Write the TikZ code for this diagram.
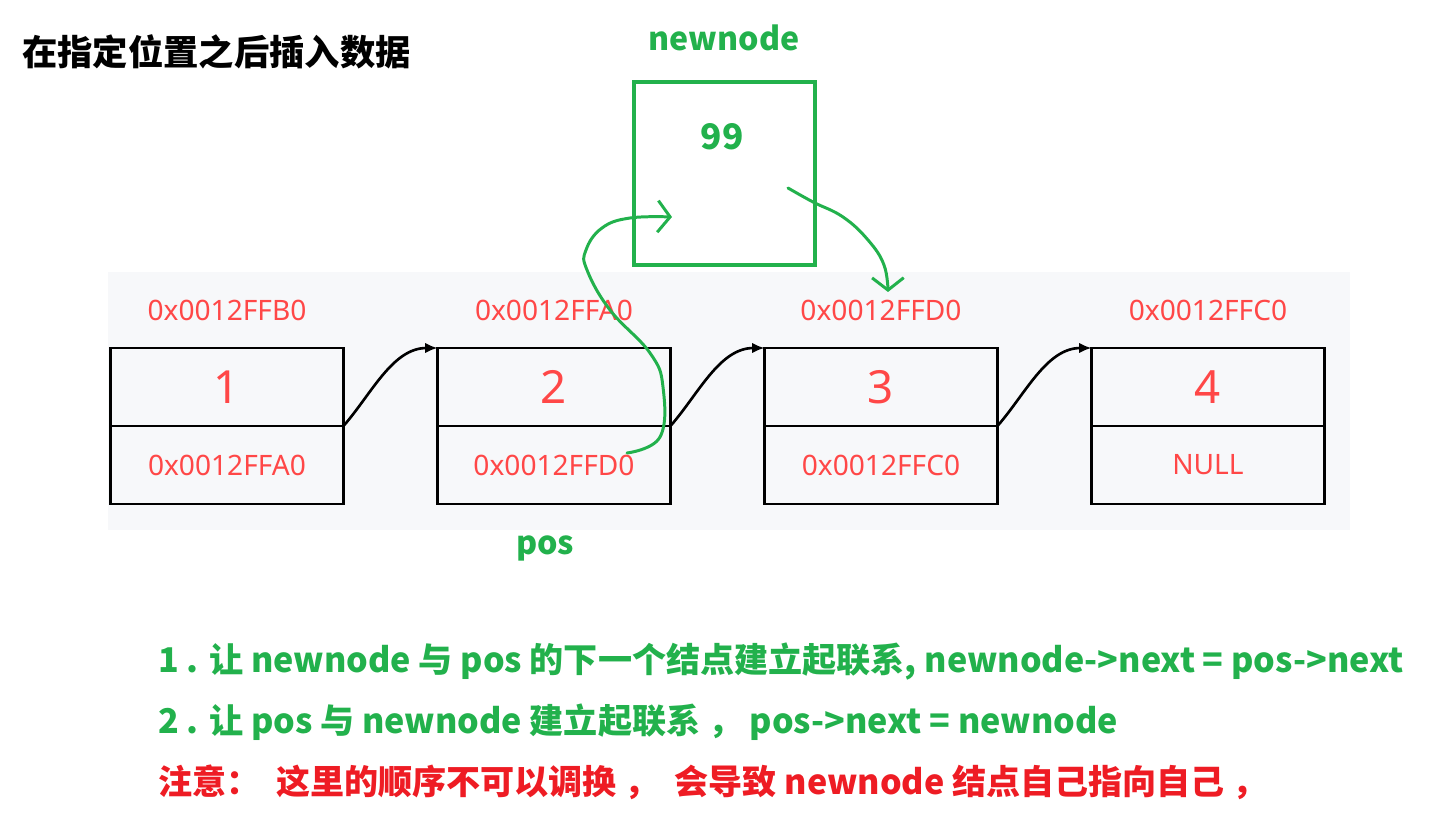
\documentclass[tikz,border=0pt]{standalone}
\usepackage{fontspec}
\usetikzlibrary{arrows.meta, positioning}
\newfontfamily\cjk{Noto Sans CJK SC}
\newfontfamily\addrfont{Noto Sans}
\definecolor{memred}{HTML}{FF4747}
\definecolor{handgreen}{HTML}{22B14C}
\definecolor{panelgray}{HTML}{F7F8FA}
\definecolor{warnred}{HTML}{EE1C24}

\tikzset{
  cell/.style={draw=black, line width=1.6pt, outer sep=0pt, inner sep=0pt,
    minimum width=4.66cm, minimum height=1.56cm, text=memred,
    font=\addrfont\fontsize{16pt}{19pt}\selectfont},
  bignum/.style={font=\addrfont\fontsize{26pt}{30pt}\selectfont},
  addr/.style={text=memred, inner sep=0pt, font=\addrfont\fontsize{16pt}{19pt}\selectfont},
  link/.style={line width=1.5pt, -{Latex[length=7pt, width=6pt]}},
  hand/.style={handgreen, line width=1.7pt, line cap=round, line join=round,
    -{Straight Barb[length=7pt, width=18pt]}},
  tag/.style={text=handgreen, inner sep=0pt, font=\cjk\bfseries\fontsize{18.3pt}{22pt}\selectfont},
  note/.style={anchor=west, inner sep=0pt, font=\cjk\bfseries\fontsize{19.4pt}{23pt}\selectfont},
}

\begin{document}
\begin{tikzpicture}[x=0.02cm, y=-0.02cm]
  \useasboundingbox (0,0) rectangle (1438,813);
  % panel behind the list
  \fill[panelgray] (108,272) rectangle (1350,530);

  \node[anchor=west, inner sep=0pt, font=\cjk\bfseries\fontsize{20.1pt}{24pt}\selectfont] (title) at (22,52) {在指定位置之后插入数据};

  % the four list nodes
  \foreach \i/\val/\addr/\nxt [evaluate=\i as \px using {227+327*(\i-1)}] in
      {1/1/0x0012FFB0/0x0012FFA0, 2/2/0x0012FFA0/0x0012FFD0,
       3/3/0x0012FFD0/0x0012FFC0, 4/4/0x0012FFC0/NULL} {
    \node[cell, bignum] (v\i) at (\px,387) {\val};
    \node[cell, below=0pt of v\i] (n\i) {\nxt};
    \node[addr] (a\i) at (\px,310) {\addr};
  }
  \foreach \i/\j in {1/2, 2/3, 3/4}
    \draw[link] (n\i.north east) .. controls +(28,-32) and +(-45,0) .. (v\j.north west);

  % the new node
  \node[draw=handgreen, line width=2.6pt, minimum width=3.62cm, minimum height=3.66cm] (nn) at (724.5,173.5) {};
  \node[tag, font=\cjk\bfseries\fontsize{20pt}{24pt}\selectfont] (nnval) at (722,137) {99};
  \node[tag] (nnname) at (724,38) {newnode};
  \node[tag] (pos) at (545,548) {pos};

  % hand drawn links
  \coordinate (posnext) at (627,453);
  \coordinate (nnin) at (672,217);
  \coordinate (nnnext) at (788,188);
  \coordinate (oldnext) at (888,292);
  \draw[hand] plot[smooth, tension=0.7] coordinates {(posnext) (660,437) (663,387) (650,353)
    (610,310) (587,270) (586,250) (602,228) (630,218) (nnin)};
  \draw[hand] plot[smooth, tension=0.7] coordinates {(nnnext) (813,202) (843,217) (868,240)
    (884,265) (oldnext)};

  % steps
  \node[note, text=handgreen] (step1) at (158,662) {1 . 让 newnode 与 pos 的下一个结点建立起联系, newnode->next = pos->next};
  \node[note, text=handgreen] (step2) at (158,722) {2 . 让 pos 与 newnode 建立起联系 ， pos->next = newnode};
  \node[note, text=warnred] (warn) at (158,782) {注意：\ \ 这里的顺序不可以调换 ，\ \ 会导致 newnode 结点自己指向自己 ，};
\end{tikzpicture}
\end{document}
